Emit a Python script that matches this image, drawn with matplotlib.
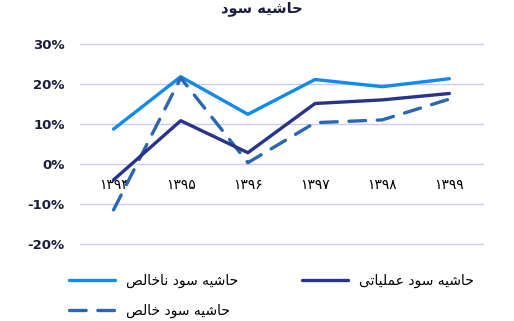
"""
Profit margin lines (gross / operating / net) per year, Persian labels.
"""

import matplotlib.pyplot as plt
from matplotlib.ticker import FuncFormatter

years = ["۱۳۹۴", "۱۳۹۵", "۱۳۹۶", "۱۳۹۷", "۱۳۹۸", "۱۳۹۹"]
gross_margin = [8.8, 21.9, 12.5, 21.2, 19.4, 21.4]
operating_margin = [-3.9, 10.9, 2.9, 15.2, 16.1, 17.7]
net_margin = [-11.4, 21.6, 0.4, 10.4, 11.1, 16.3]

title = "حاشیه سود"
label_gross = "حاشیه سود ناخالص"
label_operating = "حاشیه سود عملیاتی"
label_net = "حاشیه سود خالص"

# matplotlib has no arabic shaping, so pick presentation forms by hand
# (isolated, final, initial, medial); right-joining letters only have two
FORMS = {
    "ا": "\uFE8D\uFE8E",
    "د": "\uFEA9\uFEAA",
    "و": "\uFEED\uFEEE",
    "ت": "\uFE95\uFE96\uFE97\uFE98",
    "ح": "\uFEA1\uFEA2\uFEA3\uFEA4",
    "خ": "\uFEA5\uFEA6\uFEA7\uFEA8",
    "س": "\uFEB1\uFEB2\uFEB3\uFEB4",
    "ش": "\uFEB5\uFEB6\uFEB7\uFEB8",
    "ص": "\uFEB9\uFEBA\uFEBB\uFEBC",
    "ع": "\uFEC9\uFECA\uFECB\uFECC",
    "ل": "\uFEDD\uFEDE\uFEDF\uFEE0",
    "م": "\uFEE1\uFEE2\uFEE3\uFEE4",
    "ن": "\uFEE5\uFEE6\uFEE7\uFEE8",
    "ه": "\uFEE9\uFEEA\uFEEB\uFEEC",
    "ی": "\uFBFC\uFBFD\uFBFE\uFBFF",
}


def shape(text):
    out = []
    for i, ch in enumerate(text):
        forms = FORMS.get(ch)
        if forms is None:
            out.append(ch)
            continue
        prev = text[i - 1] if i > 0 else ""
        nxt = text[i + 1] if i + 1 < len(text) else ""
        join_prev = prev in FORMS and len(FORMS[prev]) == 4
        join_next = len(forms) == 4 and nxt in FORMS
        idx = [[0, 2], [1, 3]][join_prev][join_next]
        out.append(forms[idx])
    return "".join(out)[::-1]


plt.rcParams["font.family"] = ["DejaVu Sans"]

fig = plt.figure(figsize=(5.14, 3.21), dpi=100)
ax = fig.add_axes([0.1556, 0.239, 0.784, 0.623])

x = list(range(len(years)))
ax.plot(x, gross_margin, color="#0F8CEB", lw=2.4, label=shape(label_gross),
        solid_capstyle="round")
ax.plot(x, net_margin, color="#2B67B1", lw=2.4, label=shape(label_net),
        dashes=(5, 3.5), dash_capstyle="round")
ax.plot(x, operating_margin, color="#28338A", lw=2.4,
        label=shape(label_operating), solid_capstyle="round")

ax.set_xlim(-0.5, len(years) - 0.5)
ax.set_ylim(-20, 30)
ax.set_yticks([-20, -10, 0, 10, 20, 30])
ax.yaxis.set_major_formatter(FuncFormatter(lambda v, p: f"{v:.0f}%"))
ax.grid(True, axis="y", color="#CBCBF2", lw=1)
for gl in ax.get_ygridlines():
    gl.set_clip_on(False)
ax.set_axisbelow(True)
for s in ax.spines.values():
    s.set_visible(False)
ax.tick_params(axis="y", length=0, pad=11, labelsize=9.5,
               labelcolor="#1C1C3C")
for t in ax.get_yticklabels():
    t.set_fontweight("bold")

# category labels sit under the zero line
ax.set_xticks(x)
ax.set_xticklabels(years, fontsize=10, color="#333333")
ax.spines["bottom"].set_position(("data", 0))
ax.tick_params(axis="x", length=0, pad=10)

fig.text(0.51, 1 - 9 / 321, shape(title), ha="center", va="center",
         fontsize=10.5, fontweight="bold", color="#1C1C3C")

fig.legend(loc="upper left", bbox_to_anchor=(0.11, 0.185), ncol=2,
           frameon=False, fontsize=10, handlelength=3.3, columnspacing=4.6,
           labelspacing=1.1)

fig.savefig("out.png", dpi=100)
